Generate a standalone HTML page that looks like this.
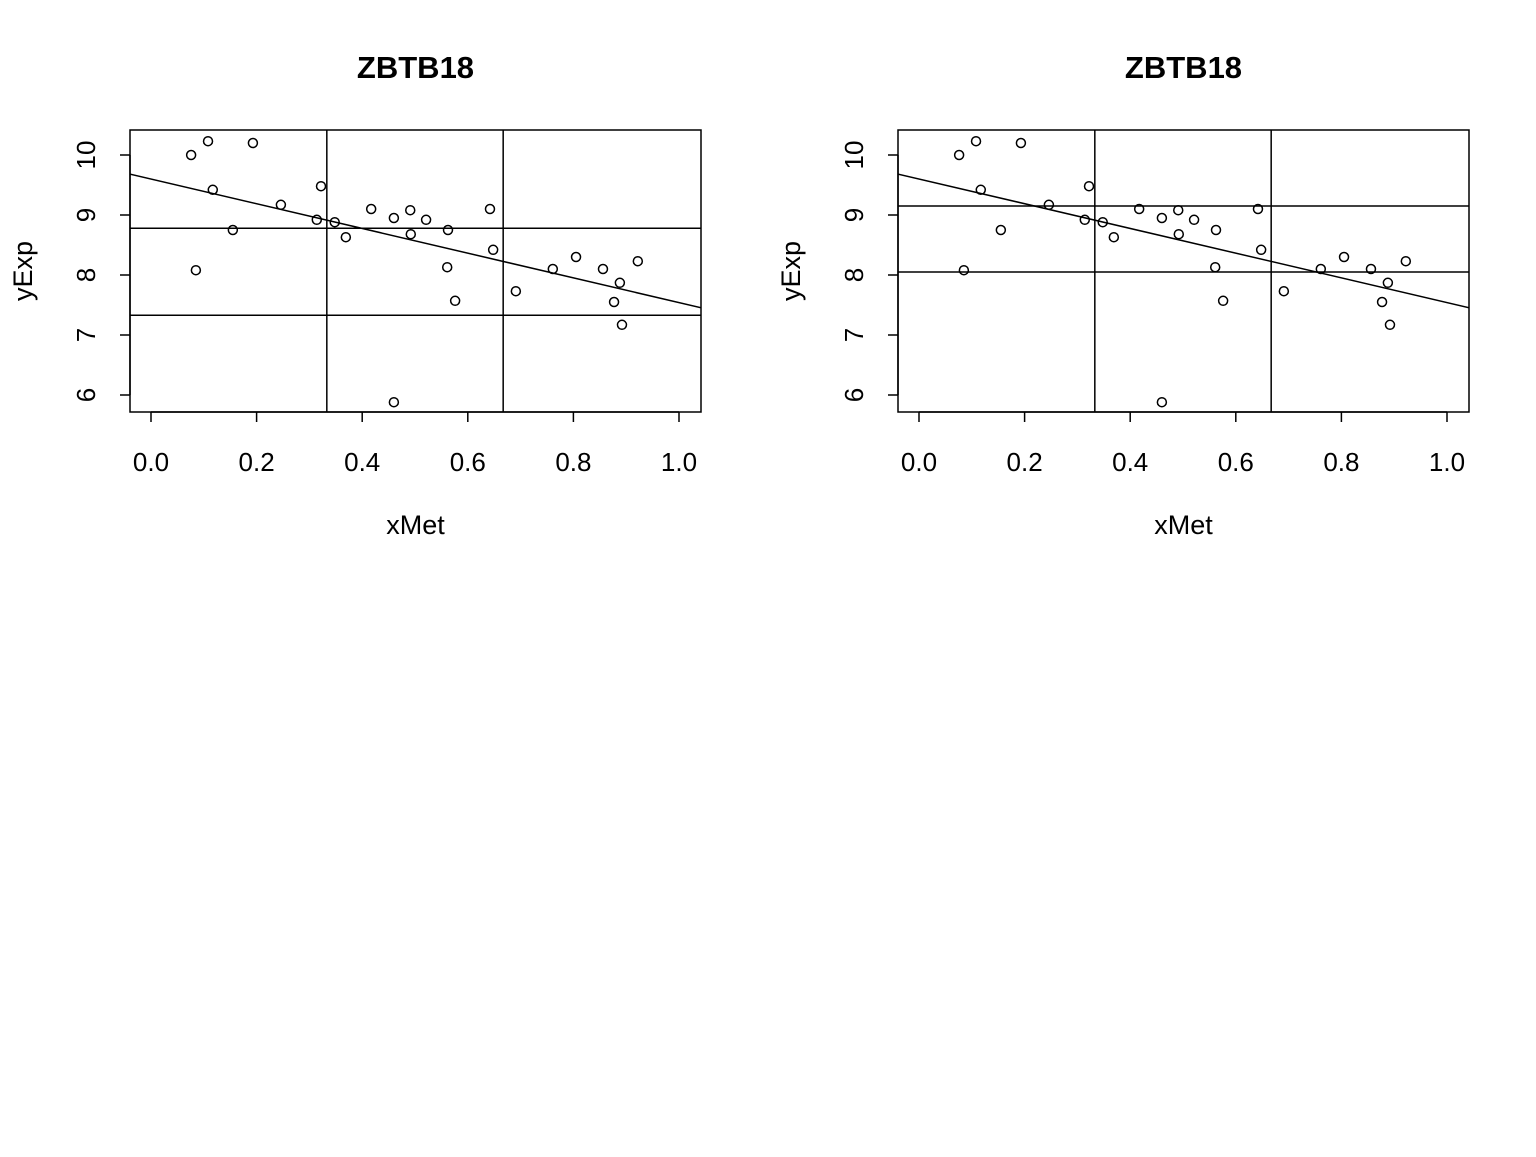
<!DOCTYPE html>
<html><head><meta charset="utf-8"><style>
html,body{margin:0;padding:0;background:#fff;}
svg text{font-family:"Liberation Sans",Arial,sans-serif;fill:#000;}
</style></head><body>
<svg id="chart" width="1536" height="1152" viewBox="0 0 1536 1152" xmlns="http://www.w3.org/2000/svg"></svg>
<script>
const xMet = [0.076,0.108,0.117,0.085,0.155,0.193,0.246,0.314,0.322,0.348,0.369,0.417,0.460,0.460,0.491,0.492,0.521,0.5625,0.561,0.576,0.642,0.648,0.691,0.761,0.805,0.856,0.877,0.888,0.892,0.922];
const yExp = [10.0,10.23,9.42,8.08,8.75,10.2,9.17,8.92,9.48,8.88,8.63,9.1,8.95,5.88,9.08,8.68,8.92,8.75,8.13,7.57,9.1,8.42,7.73,8.1,8.3,8.1,7.55,7.87,7.17,8.23];
const fitCoef = [9.60, -2.06];
const vCuts = [0.333, 0.667];
const hCutsLeft = [8.78, 7.33];
const hCutsRight = [9.15, 8.05];
const xTicks = [0,0.2,0.4,0.6,0.8,1.0];
const xTickLabels = ["0.0","0.2","0.4","0.6","0.8","1.0"];
const yTicks = [6,7,8,9,10];
const yTickLabels = ["6","7","8","9","10"];
const titles = ["ZBTB18","ZBTB18"];

const NS="http://www.w3.org/2000/svg";
const svg=document.getElementById('chart');
function mk(tag,attrs,parent){const e=document.createElementNS(NS,tag);for(const k in attrs)e.setAttribute(k,attrs[k]);(parent||svg).appendChild(e);return e;}

function panel(offset, hCuts, title, idx){
  const g=mk('g',{});
  
  
  const L=130+offset,R=701+offset,T=130,B=412;
  const sx=v=>151+offset+v*528;
  const sy=v=>155+(10-v)*60;
  const t=mk('text',{x:(L+R)/2,y:78,'text-anchor':'middle','font-size':31,'font-weight':'bold'},g);t.textContent=title;
  
  
  const box=mk('rect',{x:L,y:T,width:R-L,height:B-T,fill:'none',stroke:'#000','stroke-width':1.5},g);
  
  
  const xa=mk('g',{},g);
  
  
  mk('line',{x1:sx(xTicks[0]),x2:sx(xTicks[xTicks.length-1]),y1:B,y2:B,stroke:'#000','stroke-width':1.5},xa);
  xTicks.forEach((v,i)=>{
    mk('line',{x1:sx(v),x2:sx(v),y1:B,y2:B+10,stroke:'#000','stroke-width':1.5},xa);
    const tl=mk('text',{x:sx(v),y:471,'text-anchor':'middle','font-size':26},xa);tl.textContent=xTickLabels[i];
    
    
  });
  const xl=mk('text',{x:(L+R)/2,y:534,'text-anchor':'middle','font-size':27},g);xl.textContent='xMet';
  
  
  const ya=mk('g',{},g);
  
  
  mk('line',{x1:L,x2:L,y1:sy(yTicks[0]),y2:sy(yTicks[yTicks.length-1]),stroke:'#000','stroke-width':1.5},ya);
  yTicks.forEach((v,i)=>{
    mk('line',{x1:L,x2:L-10,y1:sy(v),y2:sy(v),stroke:'#000','stroke-width':1.5},ya);
    const tl=mk('text',{x:0,y:0,'text-anchor':'middle','font-size':26,transform:`translate(${L-35},${sy(v)}) rotate(-90)`},ya);tl.textContent=yTickLabels[i];
    
    
  });
  const yl=mk('text',{x:0,y:0,'text-anchor':'middle','font-size':27,transform:`translate(${32+offset},271) rotate(-90)`},g);yl.textContent='yExp';
  
  
  const clip=mk('g',{'clip-path':`url(#clip${idx})`},g);
  const cp=mk('clipPath',{id:'clip'+idx},g);mk('rect',{x:L,y:T,width:R-L,height:B-T},cp);
  vCuts.forEach(v=>{const l=mk('line',{x1:sx(v),x2:sx(v),y1:T,y2:B,stroke:'#000','stroke-width':1.5},clip);
    
    });
  hCuts.forEach(v=>{const l=mk('line',{x1:L,x2:R,y1:sy(v),y2:sy(v),stroke:'#000','stroke-width':1.5},clip);
    
    });
  const x0=-0.05,x1=1.06;
  const fl=mk('line',{x1:sx(x0),x2:sx(x1),y1:sy(fitCoef[0]+fitCoef[1]*x0),y2:sy(fitCoef[0]+fitCoef[1]*x1),stroke:'#000','stroke-width':1.5},clip);
  
  
  xMet.forEach((x,i)=>{
    const c=mk('circle',{cx:sx(x),cy:sy(yExp[i]),r:4.5,fill:'none',stroke:'#000','stroke-width':1.5},g);
    
    
  });
}
panel(0,hCutsLeft,titles[0],0);
panel(768,hCutsRight,titles[1],1);
</script>
</body></html>
